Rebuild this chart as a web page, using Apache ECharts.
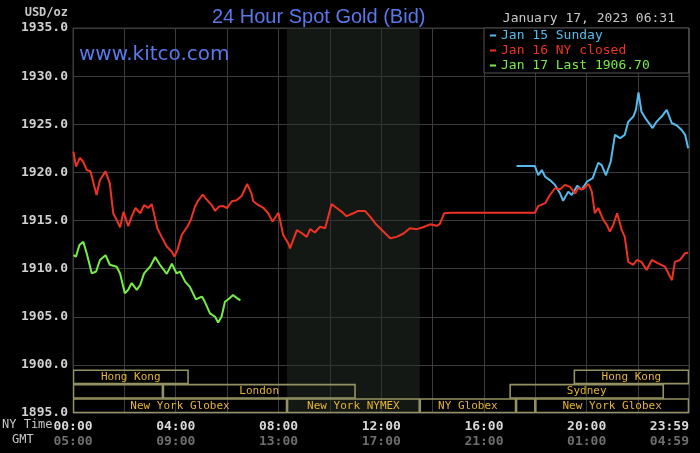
<!DOCTYPE html>
<html>
<head>
<meta charset="utf-8">
<script src="https://cdn.jsdelivr.net/npm/echarts@6/dist/echarts.min.js"></script>
<style>
  html, body { margin: 0; padding: 0; background: #000; }
  #main { width: 700px; height: 453px; }
</style>
</head>
<body>
<div id="main"></div>
<script>
// minutes after midnight NY time, price in USD/oz
var sundayMin = [1036, 1079, 1087, 1095, 1103, 1114, 1126, 1138, 1145, 1157, 1165, 1178, 1188, 1201, 1214, 1227, 1235, 1245, 1256, 1266, 1278, 1289, 1297, 1309, 1315, 1321, 1328, 1340, 1354, 1363, 1375, 1387, 1399, 1410, 1422, 1430, 1437];
var sundayVal = [1920.65, 1920.65, 1919.7, 1920.25, 1919.55, 1919.2, 1918.7, 1917.8, 1917.05, 1918.0, 1917.65, 1918.6, 1918.2, 1919.05, 1919.4, 1921.0, 1920.75, 1919.7, 1921.1, 1923.9, 1923.55, 1923.9, 1925.25, 1925.8, 1926.5, 1928.3, 1926.3, 1925.45, 1924.6, 1925.25, 1925.8, 1926.5, 1925.1, 1924.9, 1924.4, 1923.9, 1922.5];

var mondayMin = [1, 7, 16, 24, 32, 41, 55, 63, 76, 86, 94, 102, 110, 118, 129, 137, 146, 157, 166, 176, 184, 197, 207, 219, 231, 237, 244, 254, 267, 275, 285, 293, 303, 312, 324, 332, 341, 351, 360, 371, 382, 394, 407, 417, 421, 433, 445, 456, 466, 480, 491, 503, 507, 523, 534, 546, 554, 565, 577, 589, 604, 616, 628, 639, 655, 666, 682, 694, 709, 725, 741, 756, 772, 787, 803, 818, 834, 850, 857, 867, 881, 1079, 1087, 1103, 1114, 1126, 1138, 1149, 1161, 1173, 1180, 1192, 1204, 1212, 1219, 1227, 1239, 1247, 1254, 1262, 1271, 1282, 1289, 1297, 1309, 1317, 1328, 1340, 1352, 1367, 1383, 1399, 1406, 1418, 1430, 1437];
var mondayVal = [1922.15, 1920.6, 1921.5, 1921.1, 1920.25, 1920.1, 1917.65, 1919.2, 1920.1, 1918.85, 1915.75, 1915.05, 1914.3, 1915.9, 1914.4, 1915.4, 1916.3, 1915.75, 1916.6, 1916.3, 1916.7, 1914.2, 1913.3, 1912.3, 1911.75, 1911.25, 1911.95, 1913.5, 1914.35, 1915.05, 1916.45, 1917.1, 1917.7, 1917.2, 1916.6, 1916.0, 1916.45, 1916.5, 1916.3, 1917.0, 1917.1, 1917.55, 1918.8, 1917.8, 1917.0, 1916.6, 1916.3, 1915.75, 1914.9, 1915.8, 1913.5, 1912.6, 1912.1, 1914.0, 1913.7, 1913.3, 1914.1, 1913.75, 1914.35, 1914.2, 1916.7, 1916.3, 1915.9, 1915.45, 1915.75, 1916.0, 1916.0, 1915.4, 1914.55, 1913.85, 1913.15, 1913.3, 1913.65, 1914.2, 1914.1, 1914.3, 1914.6, 1914.45, 1914.65, 1915.75, 1915.8, 1915.8, 1916.5, 1916.8, 1917.65, 1918.35, 1918.25, 1918.7, 1918.5, 1917.8, 1918.35, 1918.25, 1918.8, 1918.0, 1915.75, 1916.3, 1915.05, 1914.55, 1913.85, 1914.55, 1915.75, 1914.0, 1913.3, 1910.7, 1910.4, 1910.9, 1910.7, 1909.85, 1910.9, 1910.55, 1910.2, 1908.8, 1910.7, 1910.9, 1911.6, 1911.65];

var tuesdayMin = [1, 7, 15, 24, 32, 44, 54, 63, 76, 86, 102, 110, 121, 129, 137, 149, 157, 166, 180, 192, 203, 219, 231, 242, 250, 262, 273, 287, 301, 308, 320, 332, 339, 347, 355, 365, 374, 384, 391];
var tuesdayVal = [1911.4, 1911.25, 1912.45, 1912.8, 1911.6, 1909.5, 1909.7, 1910.9, 1911.4, 1910.4, 1910.2, 1909.5, 1907.45, 1907.8, 1908.5, 1907.8, 1908.3, 1909.5, 1910.2, 1911.2, 1910.4, 1909.45, 1910.5, 1909.5, 1909.7, 1908.65, 1908.1, 1906.8, 1907.1, 1906.55, 1905.35, 1905.0, 1904.4, 1905.0, 1906.55, 1906.9, 1907.25, 1906.9, 1906.7];

var seriesNames = ['Jan 15 Sunday', 'Jan 16 NY closed', 'Jan 17 Last 1906.70'];

// trading sessions, minutes NY time, row 0 = top
var sessionNames = ['Hong Kong', '', 'London', 'New York Globex', 'New York NYMEX', 'NY Globex', '', 'New York Globex', 'Sydney', 'Hong Kong'];
var sessionStart = [0, 0, 210, 0, 500, 810, 1035, 1080, 1020, 1170];
var sessionEnd = [270, 210, 660, 500, 810, 1035, 1080, 1439, 1380, 1439];
var sessionRow = [0, 1, 1, 2, 2, 2, 2, 2, 1, 0];

var nymexOpen = 500;
var nymexClose = 810;

var yTicks = { min: 1895, max: 1935, step: 5 };

function pairs(xs, ys) {
    return xs.map(function (x, i) { return [x, ys[i]]; });
}

function hhmm(m) {
    m = ((m % 1440) + 1440) % 1440;
    var h = Math.floor(m / 60), mm = m % 60;
    return (h < 10 ? '0' : '') + h + ':' + (mm < 10 ? '0' : '') + mm;
}

var mono = 'DejaVu Sans Mono';
var colors = ['#55bbee', '#ee3322', '#77ee44'];

var sessionData = sessionNames.map(function (n, i) {
    return [sessionStart[i], sessionEnd[i], sessionRow[i], n];
});

var rowTop = [1899.5, 1898.0, 1896.5];
var rowBottom = [1898.0, 1896.5, 1895.0];

var myChart = echarts.init(document.getElementById('main'));
myChart.setOption({
    backgroundColor: '#000',
    animation: false,
    title: [
        {
            text: '24 Hour Spot Gold (Bid)',
            left: 207, top: 2,
            textStyle: { color: '#5878ec', fontSize: 20, fontWeight: 'normal', fontFamily: 'Liberation Sans' }
        },
        {
            text: 'www.kitco.com',
            left: 74, top: 40,
            textStyle: { color: '#5878ec', fontSize: 20, fontWeight: 'normal', fontFamily: 'DejaVu Sans' }
        }
    ],
    graphic: [
        { type: 'text', right: 25, top: 12, style: { text: 'January 17, 2023 06:31', fill: '#c8c8c8', font: '13px ' + mono } },
        { type: 'text', left: 2, top: 419, style: { text: 'NY Time', fill: '#c8c8c8', font: '12px ' + mono } },
        { type: 'text', left: 12, top: 434, style: { text: 'GMT', fill: '#c8c8c8', font: '12px ' + mono } }
    ],
    legend: {
        orient: 'vertical',
        left: 484, top: 28,
        padding: [0, 39, 0, 6],
        itemGap: 0,
        itemWidth: 6, itemHeight: 2,
        icon: 'rect',
        selectedMode: false,
        backgroundColor: '#000',
        borderColor: '#555',
        borderWidth: 1,
        borderRadius: 0,
        textStyle: { fontFamily: mono, fontSize: 13, lineHeight: 15 },
        data: seriesNames.map(function (n, i) {
            return { name: n, itemStyle: { color: colors[i] }, textStyle: { color: colors[i] } };
        })
    },
    grid: {
        left: 73, right: 11, top: 28, bottom: 40,
        show: true, borderColor: '#3c3c3c', borderWidth: 1
    },
    xAxis: {
        type: 'value',
        min: 0, max: 1439, interval: 120,
        axisLine: { show: false },
        axisTick: { show: false },
        splitLine: { show: true, lineStyle: { color: '#3c3c3c', width: 1 } },
        axisLabel: {
            interval: 0,
            margin: 6,
            showMaxLabel: true,
            alignMaxLabel: 'right',
            formatter: function (v) {
                if (v % 240 !== 0 && v !== 1439) return '';
                return '{a|' + hhmm(v) + '}\n{b|' + hhmm(v + 300) + '}';
            },
            rich: {
                a: { color: '#d8d8d8', fontFamily: mono, fontSize: 13, fontWeight: 'bold', lineHeight: 15 },
                b: { color: '#6e6e6e', fontFamily: mono, fontSize: 13, fontWeight: 'bold', lineHeight: 15 }
            }
        }
    },
    yAxis: {
        type: 'value',
        min: yTicks.min, max: yTicks.max, interval: yTicks.step,
        name: 'USD/oz',
        nameLocation: 'end',
        nameGap: 9,
        nameTextStyle: { color: '#c8c8c8', fontFamily: mono, fontSize: 12, fontWeight: 'bold', align: 'right', padding: [0, 5, 0, 0] },
        axisLine: { show: false },
        axisTick: { show: false },
        splitLine: { show: true, lineStyle: { color: '#3c3c3c', width: 1 } },
        axisLabel: {
            color: '#d0d0d0', fontFamily: mono, fontSize: 13, fontWeight: 'bold', margin: 5,
            formatter: function (v) { return v.toFixed(1); }
        }
    },
    series: [
        {
            type: 'custom',
            name: 'sessions',
            silent: true,
            clip: true,
            z: 1,
            encode: { x: [0, 1] },
            data: sessionData,
            renderItem: function (params, api) {
                var row = api.value(2);
                var p0 = api.coord([api.value(0), rowTop[row]]);
                var p1 = api.coord([api.value(1), rowBottom[row]]);
                var label = sessionNames[params.dataIndex];
                return {
                    type: 'group',
                    children: [
                        {
                            type: 'rect',
                            shape: { x: p0[0] + 0.5, y: p0[1] + 0.5, width: p1[0] - p0[0] - 1, height: p1[1] - p0[1] - 1 },
                            style: { fill: 'none', stroke: '#949262', lineWidth: 1.6 }
                        },
                        {
                            type: 'text',
                            style: {
                                text: label,
                                x: (p0[0] + p1[0]) / 2, y: (p0[1] + p1[1]) / 2,
                                align: 'center', verticalAlign: 'middle',
                                fill: '#e6b432', font: '11px ' + mono
                            }
                        }
                    ]
                };
            }
        },
        {
            type: 'line',
            name: seriesNames[0],
            data: pairs(sundayMin, sundayVal),
            showSymbol: false,
            z: 3,
            lineStyle: { color: colors[0], width: 2 },
            itemStyle: { color: colors[0] }
        },
        {
            type: 'line',
            name: seriesNames[1],
            data: pairs(mondayMin, mondayVal),
            showSymbol: false,
            z: 3,
            lineStyle: { color: colors[1], width: 2 },
            itemStyle: { color: colors[1] },
            markArea: {
                silent: true,
                itemStyle: { color: 'rgba(40,48,40,0.5)' },
                data: [[{ xAxis: nymexOpen }, { xAxis: nymexClose }]]
            }
        },
        {
            type: 'line',
            name: seriesNames[2],
            data: pairs(tuesdayMin, tuesdayVal),
            showSymbol: false,
            z: 3,
            lineStyle: { color: colors[2], width: 2 },
            itemStyle: { color: colors[2] }
        }
    ]
});
</script>
</body>
</html>
